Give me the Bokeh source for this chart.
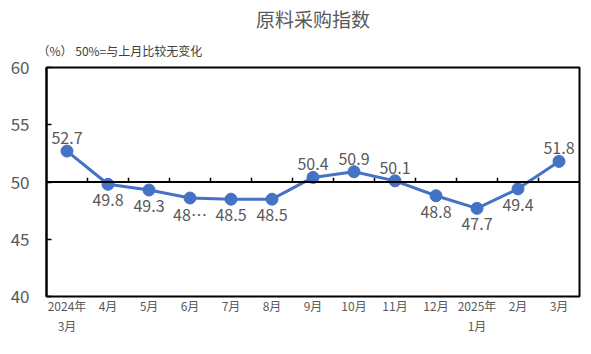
from bokeh.plotting import figure
from bokeh.models import Range1d, Span, Title, FixedTicker, ColumnDataSource
from bokeh.core.properties import value
from bokeh.embed import file_html
from bokeh.resources import INLINE

title_text = "原料采购指数"
subtitle_text = "（%） 50%=与上月比较无变化"
categories = ["2024年\n3月", "4月", "5月", "6月", "7月", "8月", "9月", "10月",
              "11月", "12月", "2025年\n1月", "2月", "3月"]
values = [52.7, 49.8, 49.3, 48.6, 48.5, 48.5, 50.4, 50.9, 50.1, 48.8, 47.7, 49.4, 51.8]
label_texts = ["52.7", "49.8", "49.3", "48…", "48.5", "48.5", "50.4", "50.9",
               "50.1", "48.8", "47.7", "49.4", "51.8"]
y_ticks = [40, 45, 50, 55, 60]

FONT = "Noto Sans CJK SC"
GREY = "#595959"
BLUE = "#4472C4"

n = len(categories)
xs = [i + 0.5 for i in range(n)]

p = figure(width=591, height=354, output_backend="svg", toolbar_location=None,
           x_range=Range1d(0, n), y_range=Range1d(40, 60),
           min_border_left=46, min_border_right=12, min_border_top=67, min_border_bottom=58)
p.background_fill_color = "white"
p.border_fill_color = "white"
p.outline_line_color = "black"
p.outline_line_width = 2
p.xgrid.visible = False
p.ygrid.visible = False

# titles
p.title.text = title_text
p.title.align = "center"
p.title.vertical_align = "bottom"
p.title.offset = -4
p.title.text_font = FONT
p.title.text_font_size = "19px"
p.title.text_font_style = "normal"
p.title.text_color = GREY
p.title.standoff = 0
sub = Title(text=subtitle_text, align="left", offset=-9, text_font=FONT,
            text_font_size="12px", text_font_style="normal", text_color="#404040",
            standoff=17)
p.add_layout(sub, "above")

# y axis
p.yaxis.ticker = FixedTicker(ticks=y_ticks)
p.yaxis.axis_line_color = "black"
p.yaxis.axis_line_width = 2
p.yaxis.major_tick_in = 5
p.yaxis.major_tick_out = 0
p.yaxis.major_tick_line_color = "black"
p.yaxis.major_tick_line_width = 1.5
p.yaxis.minor_tick_line_color = None
p.yaxis.minor_tick_out = 0
p.yaxis.major_label_text_font = FONT
p.yaxis.major_label_text_font_size = "17px"
p.yaxis.major_label_text_color = GREY
p.yaxis.major_label_standoff = 17

# x axis
p.xaxis.ticker = FixedTicker(ticks=xs)
p.xaxis.major_label_overrides = {x: c for x, c in zip(xs, categories)}
p.xaxis.axis_line_color = None
p.xaxis.major_tick_line_color = None
p.xaxis.major_tick_out = 0
p.xaxis.major_tick_in = 0
p.xaxis.minor_tick_line_color = None
p.xaxis.minor_tick_out = 0
p.xaxis.major_label_text_font = FONT
p.xaxis.major_label_text_font_size = "12px"
p.xaxis.major_label_text_color = GREY
p.xaxis.major_label_standoff = 0

# 50 reference line with category boundary ticks
p.add_layout(Span(location=50, dimension="width", line_color="black", line_width=2))
bx = list(range(1, n))
p.segment(x0=bx, y0=[50] * len(bx), x1=bx, y1=[50.38] * len(bx),
          line_color="black", line_width=1.5)

src = ColumnDataSource(dict(
    x=xs, y=values, t=label_texts,
    off=[-13 if v > 50 else 16 for v in values],
))
p.line("x", "y", source=src, line_color=BLUE, line_width=3)
p.scatter("x", "y", source=src, size=12, fill_color=BLUE, line_color=BLUE)
p.text("x", "y", text="t", source=src, y_offset="off", text_align="center",
       text_baseline="middle", text_font=value(FONT), text_font_size="16px",
       text_color=GREY)

open("out.html", "w").write(file_html(p, INLINE))
